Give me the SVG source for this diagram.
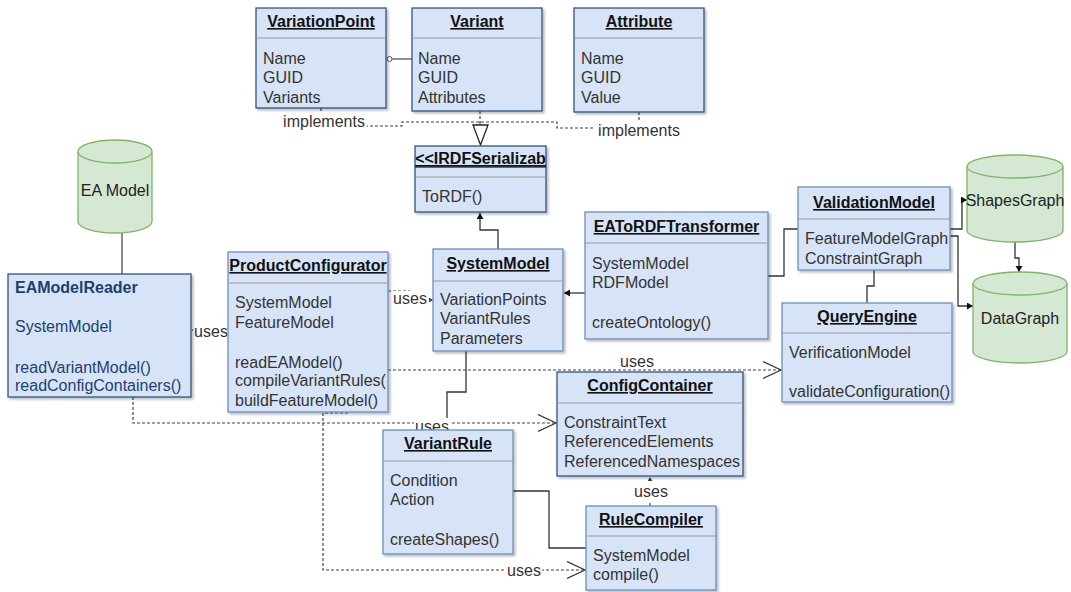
<svg xmlns="http://www.w3.org/2000/svg" width="1071" height="592" viewBox="0 0 1071 592">
<style>
.box{fill:#d7e4f7;stroke:#6c8ebf;stroke-width:1.3}
.dk{stroke:#2f5283}
.div{stroke:#9a9a9a;stroke-width:1.2}
.ttl{font-family:"Liberation Sans",Arial,sans-serif;font-size:16px;font-weight:bold;text-decoration:underline;fill:#111;text-anchor:middle}
.att{font-family:"Liberation Sans",Arial,sans-serif;font-size:16px;fill:#333}
.lbl{font-family:"Liberation Sans",Arial,sans-serif;font-size:16px;fill:#333;text-anchor:middle}
.cyl{fill:#d5e8d4;stroke:#82b366;stroke-width:1.3}
.ln{fill:none;stroke:#333;stroke-width:1.3}
.gl{fill:none;stroke:#666;stroke-width:1.5}
.dash{fill:none;stroke:#444;stroke-width:1.2;stroke-dasharray:3 2}
.bg{fill:#fff}
</style>
<defs>
<filter id="sh" x="-10%" y="-10%" width="130%" height="130%"><feDropShadow dx="2" dy="2" stdDeviation="1" flood-color="#000" flood-opacity="0.25"/></filter>
<marker id="open" markerUnits="userSpaceOnUse" markerWidth="20" markerHeight="20" refX="18" refY="9" orient="auto"><path d="M0,0.5 L18,9 L0,17.5" fill="none" stroke="#333" stroke-width="1.2"/></marker>
<marker id="fill" markerUnits="userSpaceOnUse" markerWidth="8" markerHeight="8" refX="6" refY="3.5" orient="auto"><path d="M0,0 L6,3.5 L0,7 Z" fill="#111"/></marker>
<marker id="tiny" markerUnits="userSpaceOnUse" markerWidth="6" markerHeight="6" refX="4" refY="2.5" orient="auto"><path d="M0,0 L4,2.5 L0,5 Z" fill="#444"/></marker>
</defs>

<g id="connectors">
<line class="ln" x1="392" y1="59" x2="412" y2="59" style="stroke:#555"/>
<circle cx="389.5" cy="59" r="2.5" fill="#fff" stroke="#555" stroke-width="1"/>
<path class="dash" d="M321,108 V114"/>
<path class="dash" d="M365,126 H402 V122 H557 V128 H597"/>
<path class="dash" d="M639,112 V121"/>
<path class="dash" d="M480,111 V125"/>
<path d="M473,125 L488,125 L480.5,145 Z" fill="#fff" stroke="#222" stroke-width="1.3"/>
<path class="ln" d="M498,249 V230 H480 V213" marker-end="url(#fill)"/>
<path class="ln" d="M585,293 H564" marker-end="url(#fill)"/>
<path class="ln" d="M768,276 H784 V229 H798"/>
<path class="ln" d="M950,229 H962 V200 H967" marker-end="url(#fill)"/>
<path class="ln" d="M950,236 H958 V306 H973" marker-end="url(#fill)"/>
<path class="ln" d="M1015,242 V258 H1019 V272" marker-end="url(#fill)"/>
<path class="ln" d="M874,270 V286 H867 V303"/>
<path class="dash" d="M388,370 H781" marker-end="url(#open)"/>
<path class="gl" d="M122,233 V274"/>
<path class="dash" d="M228,330 H192" marker-end="url(#tiny)"/>
<path class="dash" d="M388,291 H410 V300 H433" marker-end="url(#tiny)"/>
<path class="dash" d="M133,397 V423 H556" marker-end="url(#open)"/>
<path class="ln" d="M466,351 V392 H447 V430"/>
<path class="dash" d="M348,413 H323 V570 H585" marker-end="url(#open)"/>
<path class="ln" d="M513,491 H549 V548 H586"/>
<path class="dash" d="M650,506 V477" marker-end="url(#tiny)"/>
<rect class="bg" x="281" y="113" width="86" height="17"/>
<text class="lbl" x="324" y="127">implements</text>
<rect class="bg" x="595" y="122" width="88" height="17"/>
<text class="lbl" x="639" y="136">implements</text>
<rect class="bg" x="619" y="354" width="37" height="14"/>
<text class="lbl" x="637" y="367">uses</text>
<rect class="bg" x="193" y="322" width="35" height="16"/>
<text class="lbl" x="211" y="337">uses</text>
<rect class="bg" x="392" y="291" width="36" height="15"/>
<text class="lbl" x="410" y="304">uses</text>
<rect class="bg" x="414" y="418" width="36" height="12"/>
<text class="lbl" x="432" y="432">uses</text>
<rect class="bg" x="506" y="563" width="36" height="14"/>
<text class="lbl" x="524" y="576">uses</text>
<rect class="bg" x="633" y="483" width="36" height="18"/>
<text class="lbl" x="651" y="497">uses</text>
</g>

<g id="VariationPoint">
<rect class="box dk" x="256" y="8" width="130" height="100" filter="url(#sh)"/>
<line class="div" x1="256.6" y1="38" x2="385.4" y2="38"/>
<text class="ttl" x="321" y="27">VariationPoint</text>
<text class="att" x="263" y="64">Name</text>
<text class="att" x="263" y="83">GUID</text>
<text class="att" x="263" y="103">Variants</text>
</g>

<g id="Variant">
<rect class="box dk" x="412" y="8" width="130" height="103" filter="url(#sh)"/>
<line class="div" x1="412.6" y1="38" x2="541.4" y2="38"/>
<text class="ttl" x="477" y="27">Variant</text>
<text class="att" x="418" y="64">Name</text>
<text class="att" x="418" y="83">GUID</text>
<text class="att" x="418" y="103">Attributes</text>
</g>

<g id="Attribute">
<rect class="box dk" x="574" y="8" width="130" height="104" filter="url(#sh)"/>
<line class="div" x1="574.6" y1="38" x2="703.4" y2="38"/>
<text class="ttl" x="639" y="27">Attribute</text>
<text class="att" x="581" y="64">Name</text>
<text class="att" x="581" y="83">GUID</text>
<text class="att" x="581" y="103">Value</text>
</g>

<g id="IRDFSerializable">
<rect class="box dk" x="415" y="146" width="131" height="66" filter="url(#sh)"/>
<line x1="415" y1="167" x2="546" y2="167" stroke="#2f3f55" stroke-width="1.6"/>
<line class="div" x1="415.6" y1="177" x2="545.4" y2="177"/>
<text class="ttl" x="480.5" y="164">&lt;&lt;IRDFSerializab</text>
<text class="att" x="422" y="202">ToRDF()</text>
</g>

<g id="SystemModel">
<rect class="box" x="433" y="249" width="130" height="102" filter="url(#sh)"/>
<line class="div" x1="433.6" y1="281" x2="562.4" y2="281"/>
<text class="ttl" x="498" y="269">SystemModel</text>
<text class="att" x="440" y="305">VariationPoints</text>
<text class="att" x="440" y="324">VariantRules</text>
<text class="att" x="440" y="344">Parameters</text>
</g>

<g id="EAToRDFTransformer">
<rect class="box" x="585" y="212" width="183" height="127" filter="url(#sh)"/>
<line class="div" x1="585.6" y1="243" x2="767.4" y2="243"/>
<text class="ttl" x="676.5" y="232">EAToRDFTransformer</text>
<text class="att" x="592" y="269">SystemModel</text>
<text class="att" x="592" y="288">RDFModel</text>
<text class="att" x="592" y="328">createOntology()</text>
</g>

<g id="ValidationModel">
<rect class="box" x="798" y="187" width="152" height="83" filter="url(#sh)"/>
<line class="div" x1="798.6" y1="219" x2="949.4" y2="219"/>
<text class="ttl" x="874" y="208">ValidationModel</text>
<text class="att" x="805" y="244">FeatureModelGraph</text>
<text class="att" x="805" y="264">ConstraintGraph</text>
</g>

<g id="QueryEngine">
<rect class="box" x="782" y="303" width="170" height="99" filter="url(#sh)"/>
<line class="div" x1="782.6" y1="333" x2="951.4" y2="333"/>
<text class="ttl" x="867" y="322">QueryEngine</text>
<text class="att" x="789" y="358">VerificationModel</text>
<text class="att" x="789" y="397">validateConfiguration()</text>
</g>

<g id="ShapesGraph">
<path class="cyl" d="M967,166.5 A48,11.5 0 0 1 1063,166.5 V230.5 A48,11.5 0 0 1 967,230.5 Z"/>
<path class="cyl" d="M967,166.5 A48,11.5 0 0 0 1063,166.5" fill="none"/>
<text class="lbl" x="1015" y="206" style="fill:#222">ShapesGraph</text>
</g>

<g id="DataGraph">
<path class="cyl" d="M973,283.5 A47,11.5 0 0 1 1067,283.5 V351.5 A47,11.5 0 0 1 973,351.5 Z"/>
<path class="cyl" d="M973,283.5 A47,11.5 0 0 0 1067,283.5" fill="none"/>
<text class="lbl" x="1020" y="324" style="fill:#222">DataGraph</text>
</g>

<g id="EAModel">
<path class="cyl" d="M78,151.5 A37,11.5 0 0 1 152,151.5 V221.5 A37,11.5 0 0 1 78,221.5 Z"/>
<path class="cyl" d="M78,151.5 A37,11.5 0 0 0 152,151.5" fill="none"/>
<text class="lbl" x="115" y="196" style="fill:#222">EA Model</text>
</g>

<g id="EAModelReader">
<rect class="box dk" x="8" y="274" width="183" height="123" filter="url(#sh)"/>
<text x="15" y="293" font-family="Liberation Sans, Arial, sans-serif" font-size="16" font-weight="bold" fill="#1d3f70">EAModelReader</text>
<text class="att" x="15" y="332" style="fill:#1d3f70">SystemModel</text>
<text class="att" x="15" y="373" style="fill:#1d3f70">readVariantModel()</text>
<text class="att" x="15" y="391" style="fill:#1d3f70">readConfigContainers()</text>
</g>

<g id="ProductConfigurator">
<rect class="box" x="228" y="252" width="160" height="160" filter="url(#sh)"/>
<line class="div" x1="228.6" y1="283" x2="387.4" y2="283"/>
<text class="ttl" x="308" y="271">ProductConfigurator</text>
<text class="att" x="235" y="308">SystemModel</text>
<text class="att" x="235" y="328">FeatureModel</text>
<text class="att" x="235" y="368">readEAModel()</text>
<text class="att" x="235" y="386">compileVariantRules(</text>
<text class="att" x="235" y="406">buildFeatureModel()</text>
</g>

<g id="ConfigContainer">
<rect class="box dk" x="557" y="372" width="186" height="104" filter="url(#sh)"/>
<line class="div" x1="557.6" y1="403" x2="742.4" y2="403"/>
<text class="ttl" x="650" y="391">ConfigContainer</text>
<text class="att" x="564" y="428">ConstraintText</text>
<text class="att" x="564" y="447">ReferencedElements</text>
<text class="att" x="564" y="467">ReferencedNamespaces</text>
</g>

<g id="VariantRule">
<rect class="box" x="383" y="430" width="130" height="124" filter="url(#sh)"/>
<line class="div" x1="383.6" y1="461" x2="512.4" y2="461"/>
<text class="ttl" x="448" y="449">VariantRule</text>
<text class="att" x="390" y="486">Condition</text>
<text class="att" x="390" y="505">Action</text>
<text class="att" x="390" y="545">createShapes()</text>
</g>

<g id="RuleCompiler">
<rect class="box" x="586" y="506" width="130" height="84" filter="url(#sh)"/>
<line class="div" x1="586.6" y1="536" x2="715.4" y2="536"/>
<text class="ttl" x="651" y="525">RuleCompiler</text>
<text class="att" x="593" y="561">SystemModel</text>
<text class="att" x="593" y="580">compile()</text>
</g>
</svg>
